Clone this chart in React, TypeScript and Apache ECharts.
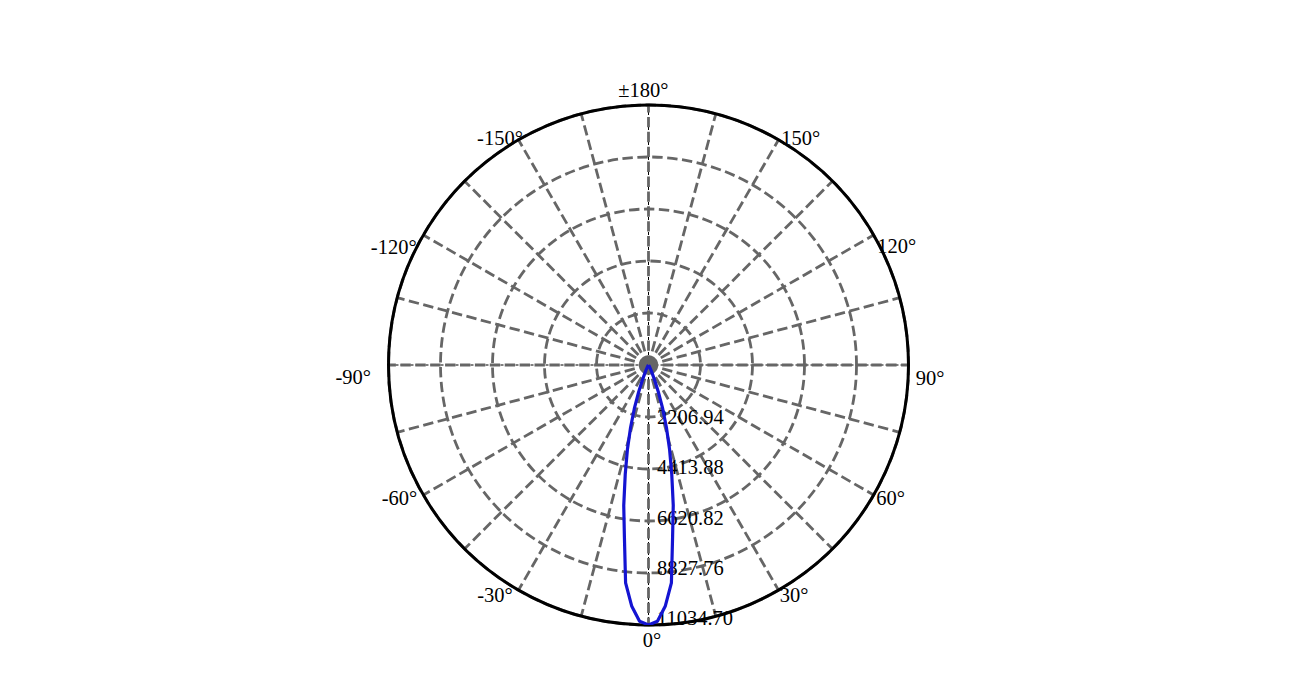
import { useEffect, useRef } from "react";
import * as echarts from "echarts";

// luminous intensity (cd) against polar angle (deg)
const ANGLES = [
  -90, -60, -45, -35, -30, -25, -22, -20, -18, -16, -14, -12, -10, -8, -6, -4, -2,
  0, 2, 4, 6, 8, 10, 12, 14, 16, 18, 20, 22, 25, 30, 35, 45, 60, 90,
];
const INTENSITY = [
  0, 0, 10, 40, 100, 300, 700, 1230, 1950, 2760, 3700, 4750, 6050, 7350, 9300, 10250, 10880,
  11034.7, 10880, 10250, 9300, 7350, 6050, 4750, 3700, 2760, 1950, 1230, 700, 300, 100, 40, 10, 0, 0,
];

// angle tick labels round the rim
const TICK_ANGLES = [0, 30, 60, 90, 120, 150, 180, -150, -120, -90, -60, -30];
const TICK_LABELS = ["0°", "30°", "60°", "90°", "120°", "150°", "±180°", "-150°", "-120°", "-90°", "-60°", "-30°"];

// intensity rings
const RINGS = [2206.94, 4413.88, 6620.82, 8827.76, 11034.7];

// dashed cross-hair through the centre
const CROSS_H = [[11034.7, 90], [0, 0], [11034.7, 270]];
const CROSS_V = [[11034.7, 0], [0, 0], [11034.7, 180]];

const R_MAX = 11034.7;
const R_STEP = 2206.94;

const FONT = "Liberation Serif";

// where each rim label sits relative to its point on the rim (px)
const LABEL_NUDGE: [number, number][] = [
  [3.5, 15], [15.5, 5], [17, 2.5], [21.5, 12.5], [23, 10.5], [22.3, -2.3],
  [-5.2, -15.5], [-18.5, -2.3], [-29.6, 11.7], [-35.2, 11.7], [-23.8, 2.5], [-23.5, 5],
];
// ring labels ride slightly above their ring, more so further out
const RING_NUDGE: [number, number][] = [[8.5, -0.5], [8.5, -2.3], [8.5, -2.7], [8.5, -4.7], [8.5, -7]];

const toAxis = (a: number) => (a < 0 ? a + 360 : a);

const textStyle = {
  color: "#000",
  textBorderWidth: 0,
  textBorderColor: "transparent",
  opacity: 1,
  fontFamily: FONT,
  fontSize: 20.5,
};

const App = () => {
  const chartRef = useRef<HTMLDivElement>(null);

  useEffect(() => {
    if (!chartRef.current) return;
    const chart = echarts.init(chartRef.current, undefined, { renderer: "svg" });

    const grid = { color: "#666666", width: 2.8, type: [10.4, 4.5] };

    const option = {
      animation: false,
      polar: { center: [648.5, 365], radius: 260 },
      angleAxis: {
        type: "value",
        min: 0,
        max: 360,
        interval: 15,
        startAngle: 270,
        clockwise: false,
        axisLine: { show: true, lineStyle: { color: "#000", width: 3 } },
        axisTick: { show: false },
        axisLabel: { show: false },
        splitLine: { show: true, lineStyle: { ...grid, dashOffset: 2.9 } },
      },
      radiusAxis: {
        type: "value",
        min: 0,
        max: R_MAX,
        interval: R_STEP,
        axisLine: { show: false },
        axisTick: { show: false },
        axisLabel: { show: false },
        splitLine: { show: true, lineStyle: grid },
      },
      series: [
        {
          type: "line",
          coordinateSystem: "polar",
          data: CROSS_H,
          symbol: "none",
          silent: true,
          z: -1,
          lineStyle: { color: "#000", width: 1, type: [3, 2] },
        },
        {
          type: "line",
          coordinateSystem: "polar",
          data: CROSS_V,
          symbol: "none",
          silent: true,
          z: -1,
          lineStyle: { color: "#000", width: 1, type: [3, 2] },
        },
        {
          type: "scatter",
          coordinateSystem: "polar",
          symbolSize: 0,
          silent: true,
          z: 3,
          itemStyle: { color: "transparent" },
          data: RINGS.map((r, i) => ({
            value: [r, 0],
            label: {
              show: true,
              position: "inside",
              offset: RING_NUDGE[i],
              formatter: r.toFixed(2),
              align: "left",
              verticalAlign: "middle",
              ...textStyle,
            },
          })),
        },
        {
          type: "line",
          coordinateSystem: "polar",
          data: ANGLES.map((a, i) => [INTENSITY[i], toAxis(a)]),
          symbol: "none",
          z: 5,
          lineStyle: { color: "#1414d2", width: 3.2 },
        },
        {
          type: "scatter",
          coordinateSystem: "polar",
          symbolSize: 0,
          silent: true,
          itemStyle: { color: "transparent" },
          data: TICK_ANGLES.map((a, i) => ({
            value: [R_MAX, toAxis(a)],
            label: {
              show: true,
              position: "inside",
              offset: LABEL_NUDGE[i],
              formatter: TICK_LABELS[i],
              align: "center",
              verticalAlign: "middle",
              ...textStyle,
            },
          })),
        },
      ],
    };

    chart.setOption(option);

    const handleResize = () => chart.resize();
    window.addEventListener("resize", handleResize);

    return () => {
      window.removeEventListener("resize", handleResize);
      chart.dispose();
    };
  }, []);

  return (
    <div
      ref={chartRef}
      style={{ position: "fixed", left: 0, top: 0, width: "100vw", height: "100vh", background: "#fff" }}
    />
  );
};

export default App;
